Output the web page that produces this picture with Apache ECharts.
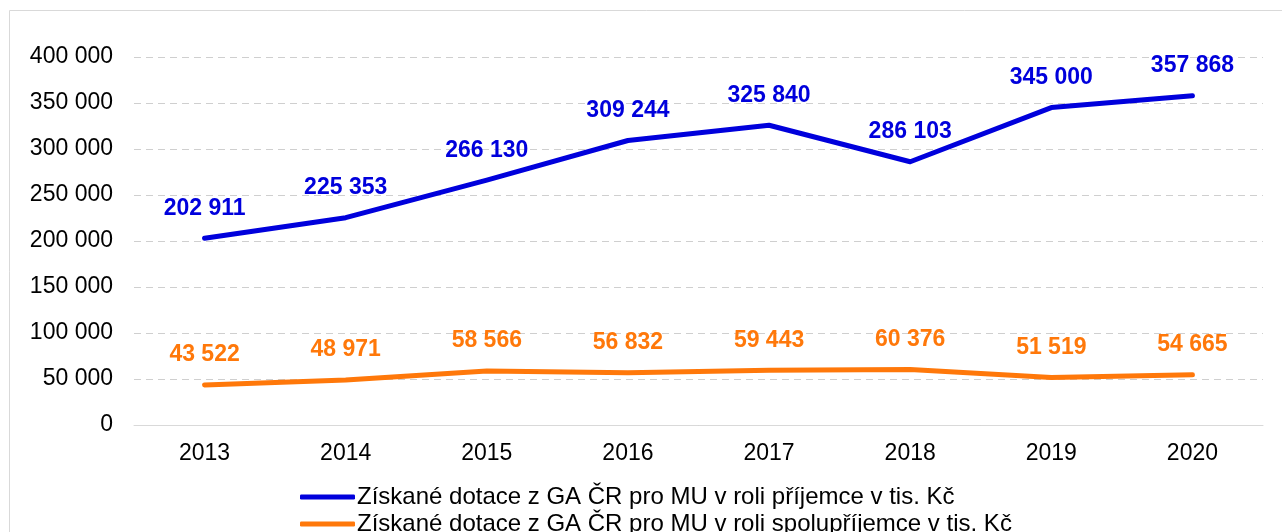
<!DOCTYPE html>
<html><head><meta charset="utf-8">
<script src="https://cdn.jsdelivr.net/npm/echarts@6/dist/echarts.min.js"></script>
<style>html,body{margin:0;padding:0;background:#fff;}#c{width:1282px;height:532px;}</style>
</head><body><div id="c"></div>
<script>
const years = ['2013','2014','2015','2016','2017','2018','2019','2020'];
const recipient = [202911, 225353, 266130, 309244, 325840, 286103, 345000, 357868];
const coRecipient = [43522, 48971, 58566, 56832, 59443, 60376, 51519, 54665];
const seriesNames = ['Získané dotace z GA ČR pro MU v roli příjemce v tis. Kč',
                     'Získané dotace z GA ČR pro MU v roli spolupříjemce v tis. Kč'];
const FONT = 'Liberation Sans, Arial, sans-serif';
const fmt = v => String(v).replace(/\B(?=(\d{3})+(?!\d))/g, ' ');
const BLUE = '#0000DC', ORANGE = '#FF780A';
const chart = echarts.init(document.getElementById('c'));
function mk(name, data, color) {
  return {
    name, type: 'line', data, symbol: 'circle', symbolSize: 1, showSymbol: true,
    lineStyle: {color, width: 5, cap: 'round', join: 'round'},
    itemStyle: {color},
    label: {show: true, position: 'top', distance: 18, color, fontFamily: FONT,
            fontWeight: 'bold', fontSize: 23, formatter: p => fmt(p.value)},
    emphasis: {disabled: true}, animation: false
  };
}
function lg(name, top) {
  return {
    orient: 'horizontal', left: 300, top, itemGap: 0, padding: 0,
    itemWidth: 55, itemHeight: 5, icon: 'roundRect',
    textStyle: {fontFamily: FONT, fontSize: 24, color: '#000', padding: [0,0,0,-3]},
    data: [name]
  };
}
chart.setOption({
  animation: false,
  textStyle: {fontFamily: FONT},
  graphic: [{type: 'rect', shape: {x: 9.5, y: 10.5, width: 1300, height: 600},
             style: {fill: 'none', stroke: '#D9D9D9', lineWidth: 1}, silent: true, z: -1}],
  grid: {left: 134, right: 19, top: 57, bottom: 107, containLabel: false},
  legend: [lg(seriesNames[0], 485), lg(seriesNames[1], 512)],
  xAxis: {
    type: 'category', data: years, boundaryGap: true,
    axisLine: {lineStyle: {color: '#D9D9D9', width: 1}},
    axisTick: {show: false},
    axisLabel: {color: '#000', fontSize: 23, fontFamily: FONT, margin: 17}
  },
  yAxis: {
    type: 'value', min: 0, max: 400000, interval: 50000,
    axisLine: {show: false}, axisTick: {show: false},
    axisLabel: {color: '#000', fontSize: 23, fontFamily: FONT, margin: 21, padding: [3,0,0,0], formatter: v => fmt(v)},
    splitLine: {lineStyle: {color: '#CFCFCF', width: 1.2, type: [7, 5]}}
  },
  series: [mk(seriesNames[0], recipient, BLUE), mk(seriesNames[1], coRecipient, ORANGE)]
});
</script></body></html>
